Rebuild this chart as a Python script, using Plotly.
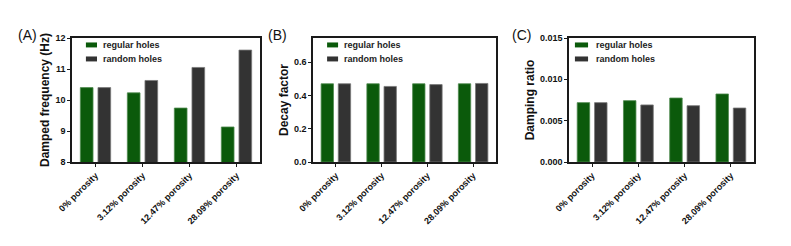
import plotly.graph_objects as go

categories = ["0% porosity", "3.12% porosity", "12.47% porosity", "28.09% porosity"]
series_names = ["regular holes", "random holes"]

freq_regular = [10.40, 10.23, 9.74, 9.13]
freq_random = [10.40, 10.63, 11.05, 11.61]

decay_regular = [0.470, 0.470, 0.470, 0.470]
decay_random = [0.470, 0.454, 0.465, 0.472]

damp_regular = [0.00718, 0.00742, 0.00774, 0.00823]
damp_random = [0.00718, 0.00690, 0.00681, 0.00653]

y_titles = ["Damped frequency (Hz)", "Decay factor", "Damping ratio"]
panel_labels = ["(A)", "(B)", "(C)"]

GREEN = "#0b5a0b"
GRAY = "#333333"
FONT = "Arial, Liberation Sans, sans-serif"

W, H = 791, 246
OFF = 8  # page body margin offset


def px_x(p):
    return (p - OFF) / W


def px_y(p):
    return 1 - (p - OFF) / H


panels = [(freq_regular, freq_random), (decay_regular, decay_random), (damp_regular, damp_random)]
x_domains = [(px_x(72), px_x(260)), (px_x(313), px_x(496)), (px_x(569), px_x(754))]
y_domain = (px_y(162), px_y(38))

fig = go.Figure()
for i, (reg, rnd) in enumerate(panels):
    xa = "x" if i == 0 else f"x{i+1}"
    ya = "y" if i == 0 else f"y{i+1}"
    fig.add_trace(go.Bar(x=categories, y=reg, name=series_names[0], xaxis=xa, yaxis=ya,
                         marker=dict(color=GREEN, line=dict(color="#4f8a4f", width=0.8)),
                         showlegend=False))
    fig.add_trace(go.Bar(x=categories, y=rnd, name=series_names[1], xaxis=xa, yaxis=ya,
                         marker=dict(color=GRAY, line=dict(color="#777777", width=0.8)),
                         showlegend=False))

y_ranges = [[8, 12], [0, 0.745], [0, 0.015]]
y_ticks = [[8, 9, 10, 11, 12], [0.0, 0.2, 0.4, 0.6], [0.0, 0.005, 0.010, 0.015]]
y_fmt = ["d", ".1f", ".3f"]

axis_common = dict(showline=True, linecolor="#1a1a1a", linewidth=1.5, mirror=True,
                   ticks="outside", ticklen=3, tickwidth=1.2, tickcolor="#1a1a1a",
                   showgrid=False, zeroline=False, automargin=False)

layout = dict(
    width=W, height=H, margin=dict(l=0, r=0, t=0, b=0),
    paper_bgcolor="white", plot_bgcolor="white",
    barmode="group", bargap=0.25, bargroupgap=0.28,
    font=dict(family=FONT, color="#111111"),
)
for i in range(3):
    xk = "xaxis" if i == 0 else f"xaxis{i+1}"
    yk = "yaxis" if i == 0 else f"yaxis{i+1}"
    ya = "y" if i == 0 else f"y{i+1}"
    xa = "x" if i == 0 else f"x{i+1}"
    layout[xk] = dict(domain=list(x_domains[i]), anchor=ya, tickangle=-45,
                      tickfont=dict(size=9, family=FONT, weight="bold", color="#111111"),
                      categoryorder="array", categoryarray=categories, **axis_common)
    layout[yk] = dict(domain=list(y_domain), anchor=xa, range=y_ranges[i],
                      tickvals=y_ticks[i], tickformat=y_fmt[i],
                      tickfont=dict(size=9, family=FONT, weight="bold", color="#111111"),
                      title=dict(text=f"<b>{y_titles[i]}</b>", font=dict(size=12, family=FONT, color="#111111"), standoff=3),
                      **axis_common)
fig.update_layout(**layout)

# panel letters
letter_x = [16, 266, 510]
for i in range(3):
    fig.add_annotation(text=panel_labels[i], xref="paper", yref="paper",
                       x=px_x(letter_x[i]), y=px_y(35), xanchor="left", yanchor="middle",
                       showarrow=False, font=dict(size=14, family=FONT, color="#111111"))

# legends
leg_pos = [(0.074, 0.133, 0.155), (0.077, 0.137, 0.159), (0.032, 0.103, 0.136)]
rows = [0.944, 0.831]
colors = [GREEN, GRAY]
for i in range(3):
    xa = "x" if i == 0 else f"x{i+1}"
    ya = "y" if i == 0 else f"y{i+1}"
    x0, x1, xt = leg_pos[i]
    for j in range(2):
        fig.add_shape(type="rect", xref=f"{xa} domain", yref=f"{ya} domain",
                      x0=x0, x1=x1, y0=rows[j] - 0.02, y1=rows[j] + 0.02,
                      fillcolor=colors[j], line=dict(width=0))
        fig.add_annotation(text=f"<b>{series_names[j]}</b>", xref=f"{xa} domain", yref=f"{ya} domain",
                           x=xt, y=rows[j], xanchor="left", yanchor="middle", showarrow=False,
                           font=dict(size=9, family=FONT, color="#222222"))

fig.write_html("out.html")
